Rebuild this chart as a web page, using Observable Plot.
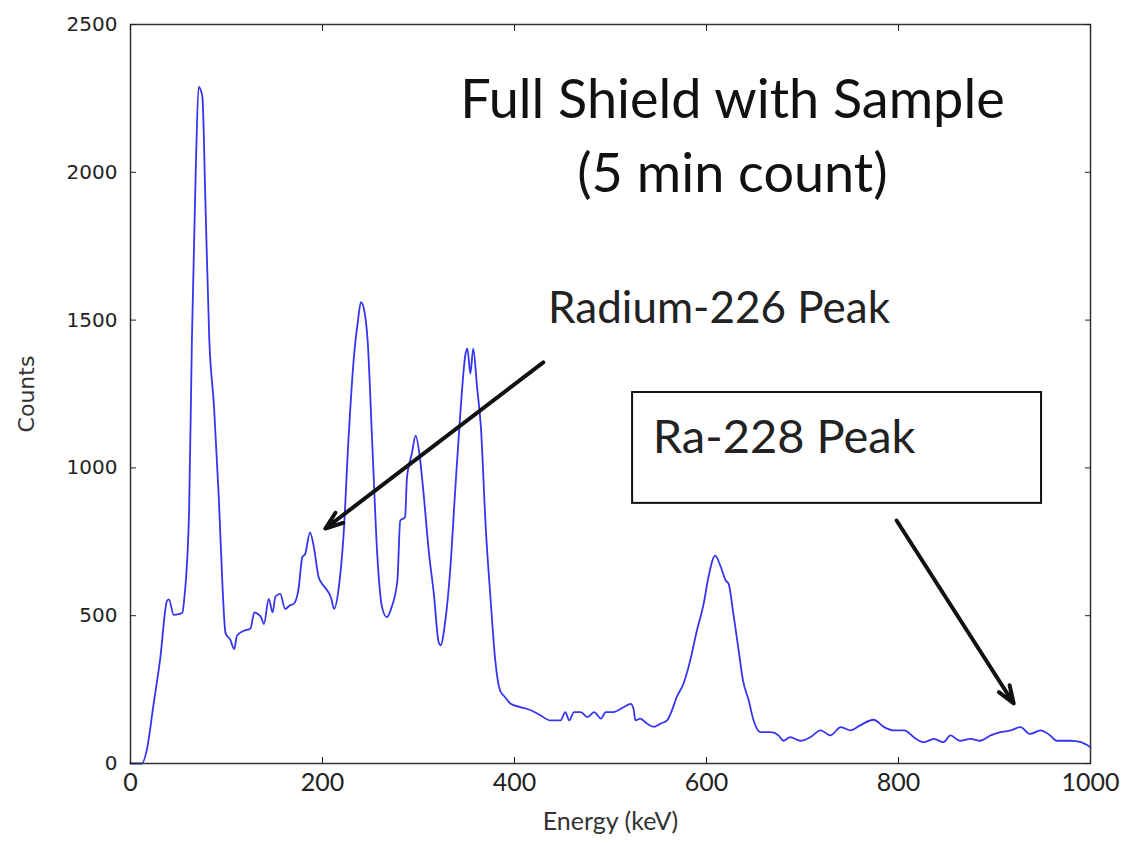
<!DOCTYPE html>
<html><head><meta charset="utf-8">
<script src="https://cdn.jsdelivr.net/npm/d3@7"></script>
<script src="https://cdn.jsdelivr.net/npm/@observablehq/plot@0.6"></script>
<style>body{margin:0;background:#fff}</style>
</head><body><div id="chart"></div>
<script>
// Spectrum values (energy in keV, counts)
const energy = [0,12,17,24,31,38,40,45,50,54,56,61,64,68,71,73,75,78,82,87,92,96,99,104,108,111,118,125,129,133,136,139,144,148,151,
  156,161,166,170,175,179,182,187,191,196,201,205,209,212,217,222,227,233,237,240,243,247,252,257,262,267,272,278,281,286,288,293,297,301,305,311,316,321,323,328,333,338,344,349,351,354,357,361,365,370,375,380,385,390,396,406,417,427,437,448,453,457,462,469,476,483,490,495,503,514,521,524,526,531,538,545,552,559,564,569,576,583,590,597,602,609,615,620,623,628,633,638,644,649,656,667,675,680,687,698,708,719,729,740,750,760,774,785,795,806,816,826,837,847,854,864,875,885,896,906,917,927,937,948,958,965,979,990,1000];
const counts = [0,0,46,200,356,550,555,503,505,510,557,851,1440,2012,2290,2280,2252,1904,1440,1207,898,588,441,418,387,433,449,457,511,505,495,472,557,511,565,
  574,523,535,540,590,698,709,782,732,630,602,585,560,523,596,776,1093,1386,1500,1561,1540,1431,1070,709,529,495,529,619,822,833,968,1047,1109,1047,923,709,574,410,400,484,653,912,1205,1386,1403,1319,1403,1273,1138,800,560,348,247,225,202,191,180,163,146,146,174,146,174,174,157,174,152,174,174,191,202,185,146,152,135,124,135,146,180,225,270,348,450,540,630,703,664,619,608,506,394,281,213,146,106,106,95,77,89,77,89,112,95,123,112,129,148,123,112,112,89,72,83,72,95,77,83,77,95,106,112,123,100,112,95,77,77,72,55];

const xTicks = [0, 200, 400, 600, 800, 1000];
const yTicks = [0, 500, 1000, 1500, 2000, 2500];
const xLabel = "Energy (keV)";
const yLabel = "Counts";

// Annotations (data units)
const titleLines = ["Full Shield with Sample", "(5 min count)"];
const titleE = [627, 627];
const titleC = [2243, 1992];
const peakLabels = ["Radium-226 Peak", "Ra-228 Peak"];
const peakLabelE = [435, 544];
const peakLabelC = [1539, 1103];
const peakLabelSize = [44, 47];
const arrowE1 = [430, 798];
const arrowC1 = [1357, 822];
const arrowE2 = [203, 920];
const arrowC2 = [795, 203];
const boxE = [523, 949];
const boxC = [880, 1255];

const spectrum = energy.map((e, i) => ({e, c: counts[i]}));
const titles = titleLines.map((t, i) => ({t, e: titleE[i], c: titleC[i]}));
const labels = peakLabels.map((t, i) => ({t, e: peakLabelE[i], c: peakLabelC[i]}));
const arrows = arrowE1.map((e, i) => ({e1: e, c1: arrowC1[i], e2: arrowE2[i], c2: arrowC2[i]}));
const boxes = [{e1: boxE[0], e2: boxE[1], c1: boxC[0], c2: boxC[1]}];

const chart = Plot.plot({
  width: 1124,
  height: 843,
  marginLeft: 130,
  marginRight: 34,
  marginTop: 24,
  marginBottom: 80,
  style: {background: "white", fontFamily: "DejaVu Sans", fontSize: "19px", color: "#222"},
  x: {domain: [0, 1000]},
  y: {domain: [0, 2500]},
  marks: [
    Plot.line(spectrum, {x: "e", y: "c", stroke: "#3535f0", strokeWidth: 1.8, curve: "monotone-x"}),
    Plot.rect(boxes, {x1: "e1", x2: "e2", y1: "c1", y2: "c2", fill: "white", stroke: "#111", strokeWidth: 2}),
    Plot.arrow(arrows, {x1: "e1", y1: "c1", x2: "e2", y2: "c2", stroke: "#111", strokeWidth: 4, headLength: 7, headAngle: 40}),
    Plot.text(titles, {x: "e", y: "c", text: "t", fontFamily: "Lato", fontSize: 54, fill: "#111", textAnchor: "middle"}),
    Plot.text(labels.slice(0, 1), {x: "e", y: "c", text: "t", fontFamily: "Lato", fontSize: peakLabelSize[0], fill: "#222", textAnchor: "start"}),
    Plot.text(labels.slice(1), {x: "e", y: "c", text: "t", fontFamily: "Lato", fontSize: peakLabelSize[1], fill: "#222", textAnchor: "start"}),
    Plot.frame({stroke: "#333", strokeWidth: 1.5}),
    Plot.axisX({ticks: xTicks, tickSize: -6, tickPadding: 16, label: null, fontFamily: "Lato", fontSize: 25, tickFormat: d => String(d)}),
    Plot.axisX({anchor: "top", ticks: xTicks, tickSize: -6, label: null, tickFormat: () => ""}),
    Plot.axisY({ticks: yTicks, tickSize: -6, tickPadding: 19, label: null, fontSize: 20, tickFormat: d => String(d)}),
    Plot.axisY({anchor: "right", ticks: yTicks, tickSize: -6, label: null, tickFormat: () => ""}),
    Plot.text([xLabel], {text: d => d, frameAnchor: "bottom", dy: 66, fontFamily: "Lato", fontSize: 25, fill: "#333"}),
    Plot.text([yLabel], {text: d => d, frameAnchor: "left", textAnchor: "middle", dx: -104, rotate: -90, fontFamily: "DejaVu Sans", fontSize: 22, fill: "#333"})
  ]
});
document.getElementById("chart").appendChild(chart);
</script>
</body></html>
